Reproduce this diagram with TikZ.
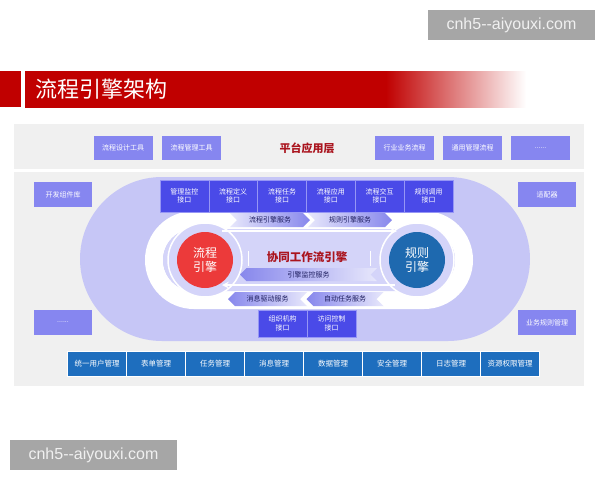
\documentclass[tikz,border=0pt]{standalone}
\usepackage{fontspec}
\setmainfont{Noto Sans CJK SC}
\newfontfamily\wmfont{Liberation Sans}
\usetikzlibrary{shapes.symbols}

\definecolor{titlered}{RGB}{192,0,0}
\definecolor{layerred}{RGB}{170,20,30}
\definecolor{panelgray}{RGB}{240,240,240}
\definecolor{stadiumcol}{RGB}{198,198,246}
\definecolor{innerlav}{RGB}{212,212,249}
\definecolor{toolcol}{RGB}{134,134,240}
\definecolor{ifacecol}{RGB}{74,74,232}
\definecolor{ifaceline}{RGB}{150,150,245}
\definecolor{basecol}{RGB}{30,110,190}
\definecolor{chevcol}{RGB}{135,135,236}
\definecolor{chevtext}{RGB}{30,30,95}
\definecolor{flowred}{RGB}{236,58,58}
\definecolor{ruleblue}{RGB}{30,105,175}
\definecolor{wmgray}{RGB}{166,166,166}

\pgfdeclarehorizontalshading{titlefade}{100bp}{color(0bp)=(titlered); color(25bp)=(titlered); color(61bp)=(titlered); color(75bp)=(white); color(100bp)=(white)}

\newcommand{\etcdots}{......}

\tikzstyle{box} = [rectangle,inner sep=0pt,text=white,font=\fontsize{7}{8.5}\selectfont,align=center]
\tikzstyle{toolbox} = [box,fill=toolcol,minimum width=59pt,minimum height=24pt]
\tikzstyle{sidebox} = [box,fill=toolcol,minimum width=58pt,minimum height=25pt]
\tikzstyle{ifacebox} = [box,fill=ifacecol,draw=ifaceline,line width=0.6pt,minimum width=48.8pt,minimum height=32pt]
\tikzstyle{basebox} = [box,fill=basecol,draw=white,line width=0.6pt,minimum width=59pt,minimum height=25pt,font=\fontsize{7.5}{9}\selectfont]
\tikzstyle{chevron} = [signal,signal pointer angle=90,inner sep=0pt,minimum height=14pt,text=chevtext,font=\fontsize{7}{8}\selectfont]
\tikzstyle{toright} = [chevron,signal to=east,signal from=west,left color=chevcol!20,right color=chevcol]
\tikzstyle{toleft} = [chevron,signal to=west,signal from=east,left color=chevcol,right color=chevcol!20]
\tikzstyle{halo} = [circle,fill=innerlav,draw=white,line width=1.5pt,minimum size=74pt]
\tikzstyle{engine} = [circle,minimum size=56pt,inner sep=0pt,text=white,align=center,font=\fontsize{12}{14}\selectfont]
\tikzstyle{track} = [draw=white,line width=18pt,rounded corners=40pt]
\tikzstyle{flow} = [draw=white,line width=2pt,->,>=stealth]
\tikzstyle{wm} = [rectangle,fill=wmgray,text=white!94!black,minimum width=167pt,minimum height=30pt,font=\wmfont\fontsize{16}{18}\selectfont]

\begin{document}
\begin{tikzpicture}[x=1pt,y=-1pt]
    \useasboundingbox (0,0) rectangle (600,480);
    \fill[white] (0,0) rectangle (600,480);

    %title bar
    \fill[titlered] (0,71) rectangle (21,107);
    \shade[shading=titlefade] (25,71) rectangle (526,107);
    \node[anchor=west,text=white,inner sep=0pt,font=\fontsize{22}{24}\selectfont] (title) at (35,89) {流程引擎架构};

    %panels
    \fill[panelgray] (14,124) rectangle (584,169);
    \fill[panelgray] (14,172) rectangle (584,386);
    \fill[stadiumcol,rounded corners=82pt] (80,177) rectangle (530,341);
    \draw[track] (154,220) rectangle (464,300);
    \fill[innerlav,rounded corners=31pt] (163,229) rectangle (455,291);

    %platform layer
    \node[font=\fontsize{11}{13}\selectfont\bfseries,text=layerred] (layer) at (307,148) {平台应用层};
    \foreach \nodename/\txt/\x in {
      tdesign/流程设计工具/123, tmanage/流程管理工具/191.5, tindustry/行业业务流程/404.5,
      tcommon/通用管理流程/472.5, tmore/\etcdots/540.5}
    {
      \node[toolbox] (\nodename) at (\x,148) {\txt};
    }

    %side boxes
    \foreach \nodename/\txt/\x/\y in {
      devlib/开发组件库/63/194.5, adapter/适配器/547/194.5,
      sidemore/\etcdots/63/322.5, bizrule/业务规则管理/547/322.5}
    {
      \node[sidebox] (\nodename) at (\x,\y) {\txt};
    }

    %interfaces
    \foreach \nodename/\txt/\x/\y in {
      imonitor/管理监控\\接口/184.4/196, idefine/流程定义\\接口/233.2/196,
      itask/流程任务\\接口/282.1/196, iapp/流程应用\\接口/330.9/196,
      iinteract/流程交互\\接口/379.7/196, irule/规则调用\\接口/428.6/196}
    {
      \node[ifacebox] (\nodename) at (\x,\y) {\txt};
    }
    \node[ifacebox,minimum height=27pt] (iorg) at (282.5,323.5) {组织机构\\接口};
    \node[ifacebox,minimum height=27pt] (iaccess) at (331.5,323.5) {访问控制\\接口};

    %inner flow
    \coordinate (topstart) at (222,231);
    \coordinate (topend) at (397,231);
    \coordinate (botstart) at (395,285);
    \coordinate (botend) at (222,285);
    \node[halo] (flowhalo) at (205,260) {};
    \node[halo] (rulehalo) at (417,260) {};
    \path[flow] (topstart) -- (topend);
    \path[flow] (botstart) -- (botend);
    \node[engine,fill=flowred] (flowengine) at (205,260) {流程\\引擎};
    \node[engine,fill=ruleblue] (ruleengine) at (417,260) {规则\\引擎};

    \node[font=\fontsize{11.5}{13}\selectfont\bfseries,text=layerred] (cowork) at (307,257) {协同工作流引擎};
    \coordinate (sepa) at (248,251);
    \coordinate (sepb) at (370,251);
    \draw[white,line width=0.8pt] (sepa) -- ++(0,15);
    \draw[white,line width=0.8pt] (sepb) -- ++(0,15);

    %services
    \node[toright,minimum width=80pt] (sflow) at (270,220) {流程引擎服务};
    \node[toright,minimum width=84pt] (srule) at (350,220) {规则引擎服务};
    \node[toleft,minimum width=137pt,minimum height=13pt] (smonitor) at (308.5,274.5) {引擎监控服务};
    \node[toleft,minimum width=79pt] (smsg) at (267.5,299) {消息驱动服务};
    \node[toleft,minimum width=77pt] (sauto) at (345,299) {自动任务服务};

    %base services
    \foreach \nodename/\txt/\x in {
      buser/统一用户管理/97, bform/表单管理/156, btask/任务管理/215, bmsg/消息管理/274,
      bdata/数据管理/333, bsafe/安全管理/392, blog/日志管理/451, bright/资源权限管理/510}
    {
      \node[basebox] (\nodename) at (\x,363.5) {\txt};
    }

    %watermarks
    \node[wm] (wmtop) at (511.5,25) {cnh5-{}-aiyouxi.com};
    \node[wm] (wmbottom) at (93.5,455) {cnh5-{}-aiyouxi.com};

\end{tikzpicture}
\end{document}
